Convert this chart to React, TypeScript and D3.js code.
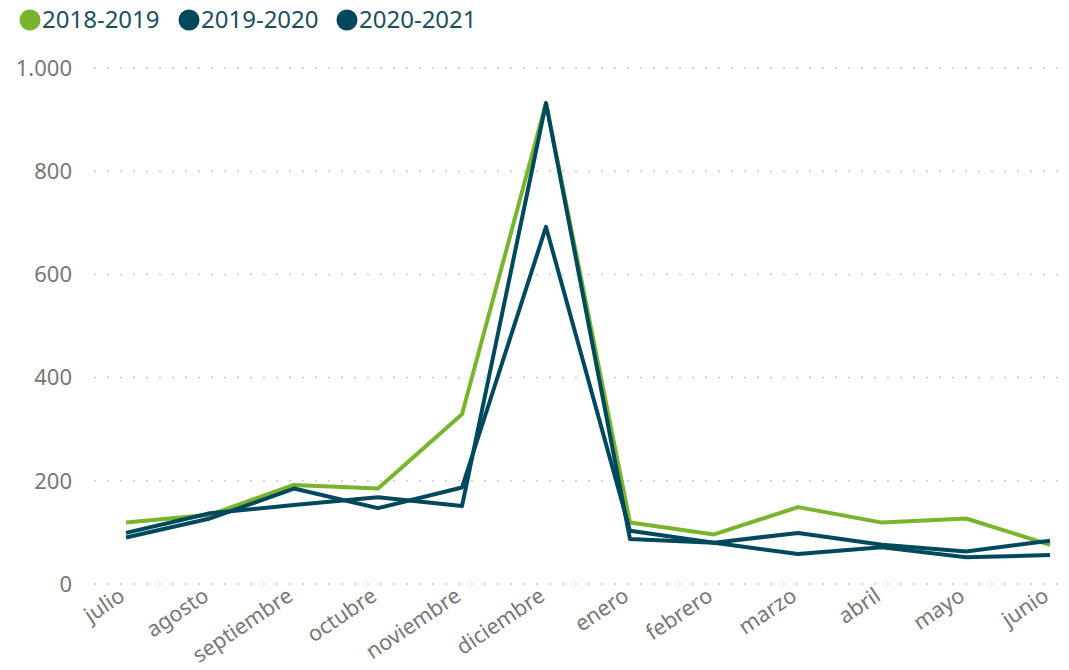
import * as d3 from "d3";
import React from "react";

const months = ["julio", "agosto", "septiembre", "octubre", "noviembre", "diciembre", "enero", "febrero", "marzo", "abril", "mayo", "junio"];
const s2018 = [119, 134, 192, 185, 329, 932, 119, 96, 149, 119, 127, 76];
const s2019 = [99, 137, 153, 168, 151, 932, 87, 80, 58, 71, 52, 56];
const s2020 = [90, 127, 185, 147, 187, 692, 103, 80, 99, 76, 63, 84];
const seriesNames = ["2018-2019", "2019-2020", "2020-2021"];
const yTicks = [0, 200, 400, 600, 800, 1000];

const colors = ["#78B42C", "#00485C", "#00485C"];

export default function App() {
  const width = 1069;
  const height = 670;
  const x = d3.scalePoint<string>().domain(months).range([126, 1050]);
  const y = d3.scaleLinear().domain([0, 1000]).range([584, 68]);
  const line = d3.line<number>()
    .x((_, i) => x(months[i])!)
    .y(d => y(d));
  const fmt = d3.formatLocale({ decimal: ",", thousands: ".", grouping: [3], currency: ["", "€"] }).format(",d");
  const all = [s2018, s2019, s2020];
  const legendX = [30, 189, 347];

  return (
    <svg width={width} height={height} style={{ position: "absolute", left: 0, top: 0, fontFamily: "'Noto Sans', sans-serif" }}>
      {yTicks.map(t => (
        <g key={t}>
          <line x1={95} x2={1066} y1={y(t)} y2={y(t)} stroke="#c8c8c8" strokeWidth={2} strokeDasharray="0 13" strokeLinecap="round" />
          <text x={72} y={y(t)} dy="0.35em" textAnchor="end" fontSize={22} fill="#777">{fmt(t)}</text>
        </g>
      ))}
      {months.map(m => (
        <text key={m} transform={`translate(${x(m)! - 4},${593}) rotate(-34)`} textAnchor="end" dy="0.35em" fontSize={21.5} fill="#777">{m}</text>
      ))}
      {all.map((s, i) => (
        <path key={i} d={line(s)!} fill="none" stroke={colors[i]} strokeWidth={4} strokeLinejoin="round" />
      ))}
      {seriesNames.map((n, i) => (
        <g key={n}>
          <circle cx={legendX[i]} cy={20} r={10.5} fill={colors[i]} />
          <text x={legendX[i] + 12} y={20} dy="0.35em" fontSize={24} fill="#1B4F60">{n}</text>
        </g>
      ))}
    </svg>
  );
}
